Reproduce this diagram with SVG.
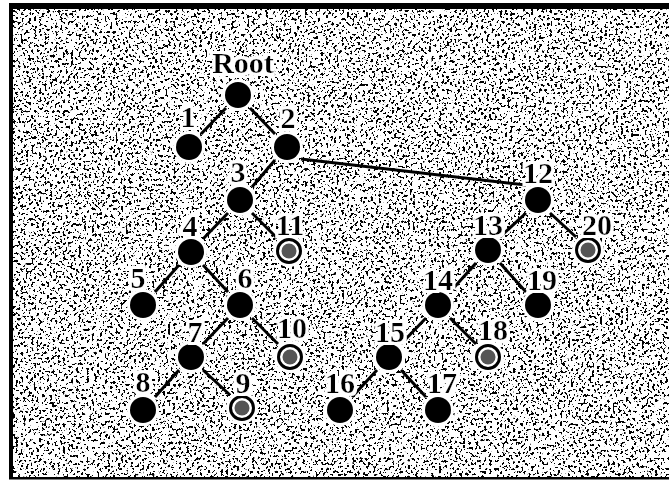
<svg xmlns="http://www.w3.org/2000/svg" width="669" height="480" viewBox="0 0 669 480">
  <defs>
    <filter id="grain" x="0" y="0" width="1" height="1">
      <feTurbulence type="fractalNoise" baseFrequency="0.38" numOctaves="2" seed="9" result="t"/>
      <feColorMatrix in="t" type="matrix" values="1 0 0 0 0  1 0 0 0 0  1 0 0 0 0  0 0 0 0 1" result="g"/>
      <feComponentTransfer in="g">
        <feFuncR type="linear" slope="40" intercept="-15.6"/>
        <feFuncG type="linear" slope="40" intercept="-15.6"/>
        <feFuncB type="linear" slope="40" intercept="-15.6"/>
      </feComponentTransfer>
    </filter>
    <filter id="halo" x="-30%" y="-30%" width="160%" height="160%">
      <feMorphology in="SourceAlpha" operator="dilate" radius="3" result="d"/>
      <feFlood flood-color="#ffffff" result="f"/>
      <feComposite in="f" in2="d" operator="in" result="w"/>
      <feMerge><feMergeNode in="w"/><feMergeNode in="SourceGraphic"/></feMerge>
    </filter>
    <g id="solid">
      <circle r="16" fill="#fff"/>
      <circle r="13" fill="#000"/>
    </g>
    <g id="hollow">
      <circle r="16" fill="#fff"/>
      <circle r="11.5" fill="#fff" stroke="#000" stroke-width="3"/>
      <circle r="7.5" fill="#555"/>
    </g>
  </defs>
  <style>
    .edge { stroke: #000; stroke-width: 3; stroke-linecap: butt; fill: none; }
    .lbl { font-family: "Liberation Serif", "DejaVu Serif", serif; font-size: 30px; font-weight: bold; fill: #000; text-anchor: middle; }
  </style>

  <rect x="0" y="0" width="669" height="480" fill="#fff"/>
  <rect x="13" y="9" width="656" height="468" fill="#fff" filter="url(#grain)"/>
  <g id="frame" fill="#000">
    <rect x="9" y="3" width="660" height="6"/>
    <rect x="9" y="3" width="4" height="476"/>
    <rect x="9" y="477" width="660" height="2.5"/>
  </g>

  <g id="connectors" class="edge">
    <line x1="226" y1="108" x2="201" y2="134"/>
    <line x1="250" y1="108" x2="275" y2="134"/>
    <line x1="275" y1="160" x2="252" y2="187"/>
    <line x1="301" y1="159" x2="526" y2="185"/>
    <line x1="228" y1="213" x2="203" y2="239"/>
    <line x1="252" y1="213" x2="277" y2="238"/>
    <line x1="179" y1="265" x2="155" y2="292"/>
    <line x1="203" y1="265" x2="228" y2="292"/>
    <line x1="228" y1="318" x2="203" y2="344"/>
    <line x1="252" y1="318" x2="278" y2="344"/>
    <line x1="179" y1="370" x2="155" y2="397"/>
    <line x1="203" y1="370" x2="230" y2="395"/>
    <line x1="526" y1="213" x2="500" y2="237"/>
    <line x1="550" y1="213" x2="576" y2="237"/>
    <line x1="476" y1="263" x2="450" y2="292"/>
    <line x1="500" y1="263" x2="526" y2="292"/>
    <line x1="426" y1="318" x2="401" y2="344"/>
    <line x1="450" y1="318" x2="476" y2="344"/>
    <line x1="377" y1="370" x2="352" y2="397"/>
    <line x1="401" y1="370" x2="426" y2="397"/>
  </g>

  <g id="node-root"><use href="#solid" x="238" y="95"/><text class="lbl" x="243" y="73" filter="url(#halo)">Root</text></g>
  <g id="node-1"><use href="#solid" x="189" y="147"/><text class="lbl" x="188" y="127" filter="url(#halo)">1</text></g>
  <g id="node-2"><use href="#solid" x="287" y="147"/><text class="lbl" x="288" y="128" filter="url(#halo)">2</text></g>
  <g id="node-3"><use href="#solid" x="240" y="200"/><text class="lbl" x="238" y="182" filter="url(#halo)">3</text></g>
  <g id="node-4"><use href="#solid" x="191" y="252"/><text class="lbl" x="190" y="236" filter="url(#halo)">4</text></g>
  <g id="node-11"><use href="#hollow" x="289" y="251"/><text class="lbl" x="290" y="235" filter="url(#halo)">11</text></g>
  <g id="node-5"><use href="#solid" x="143" y="305"/><text class="lbl" x="138" y="288" filter="url(#halo)">5</text></g>
  <g id="node-6"><use href="#solid" x="240" y="305"/><text class="lbl" x="245" y="288" filter="url(#halo)">6</text></g>
  <g id="node-7"><use href="#solid" x="191" y="357"/><text class="lbl" x="195" y="342" filter="url(#halo)">7</text></g>
  <g id="node-10"><use href="#hollow" x="290" y="357"/><text class="lbl" x="292" y="338" filter="url(#halo)">10</text></g>
  <g id="node-8"><use href="#solid" x="143" y="410"/><text class="lbl" x="143" y="392" filter="url(#halo)">8</text></g>
  <g id="node-9"><use href="#hollow" x="242" y="408"/><text class="lbl" x="243" y="393" filter="url(#halo)">9</text></g>
  <g id="node-12"><use href="#solid" x="538" y="200"/><text class="lbl" x="538" y="183" filter="url(#halo)">12</text></g>
  <g id="node-13"><use href="#solid" x="488" y="250"/><text class="lbl" x="488" y="235" filter="url(#halo)">13</text></g>
  <g id="node-20"><use href="#hollow" x="588" y="250"/><text class="lbl" x="597" y="235" filter="url(#halo)">20</text></g>
  <g id="node-14"><use href="#solid" x="438" y="305"/><text class="lbl" x="438" y="290" filter="url(#halo)">14</text></g>
  <g id="node-19"><use href="#solid" x="538" y="305"/><text class="lbl" x="542" y="290" filter="url(#halo)">19</text></g>
  <g id="node-15"><use href="#solid" x="389" y="357"/><text class="lbl" x="390" y="342" filter="url(#halo)">15</text></g>
  <g id="node-18"><use href="#hollow" x="488" y="357"/><text class="lbl" x="493" y="340" filter="url(#halo)">18</text></g>
  <g id="node-16"><use href="#solid" x="340" y="410"/><text class="lbl" x="340" y="393" filter="url(#halo)">16</text></g>
  <g id="node-17"><use href="#solid" x="438" y="410"/><text class="lbl" x="442" y="393" filter="url(#halo)">17</text></g>
</svg>
